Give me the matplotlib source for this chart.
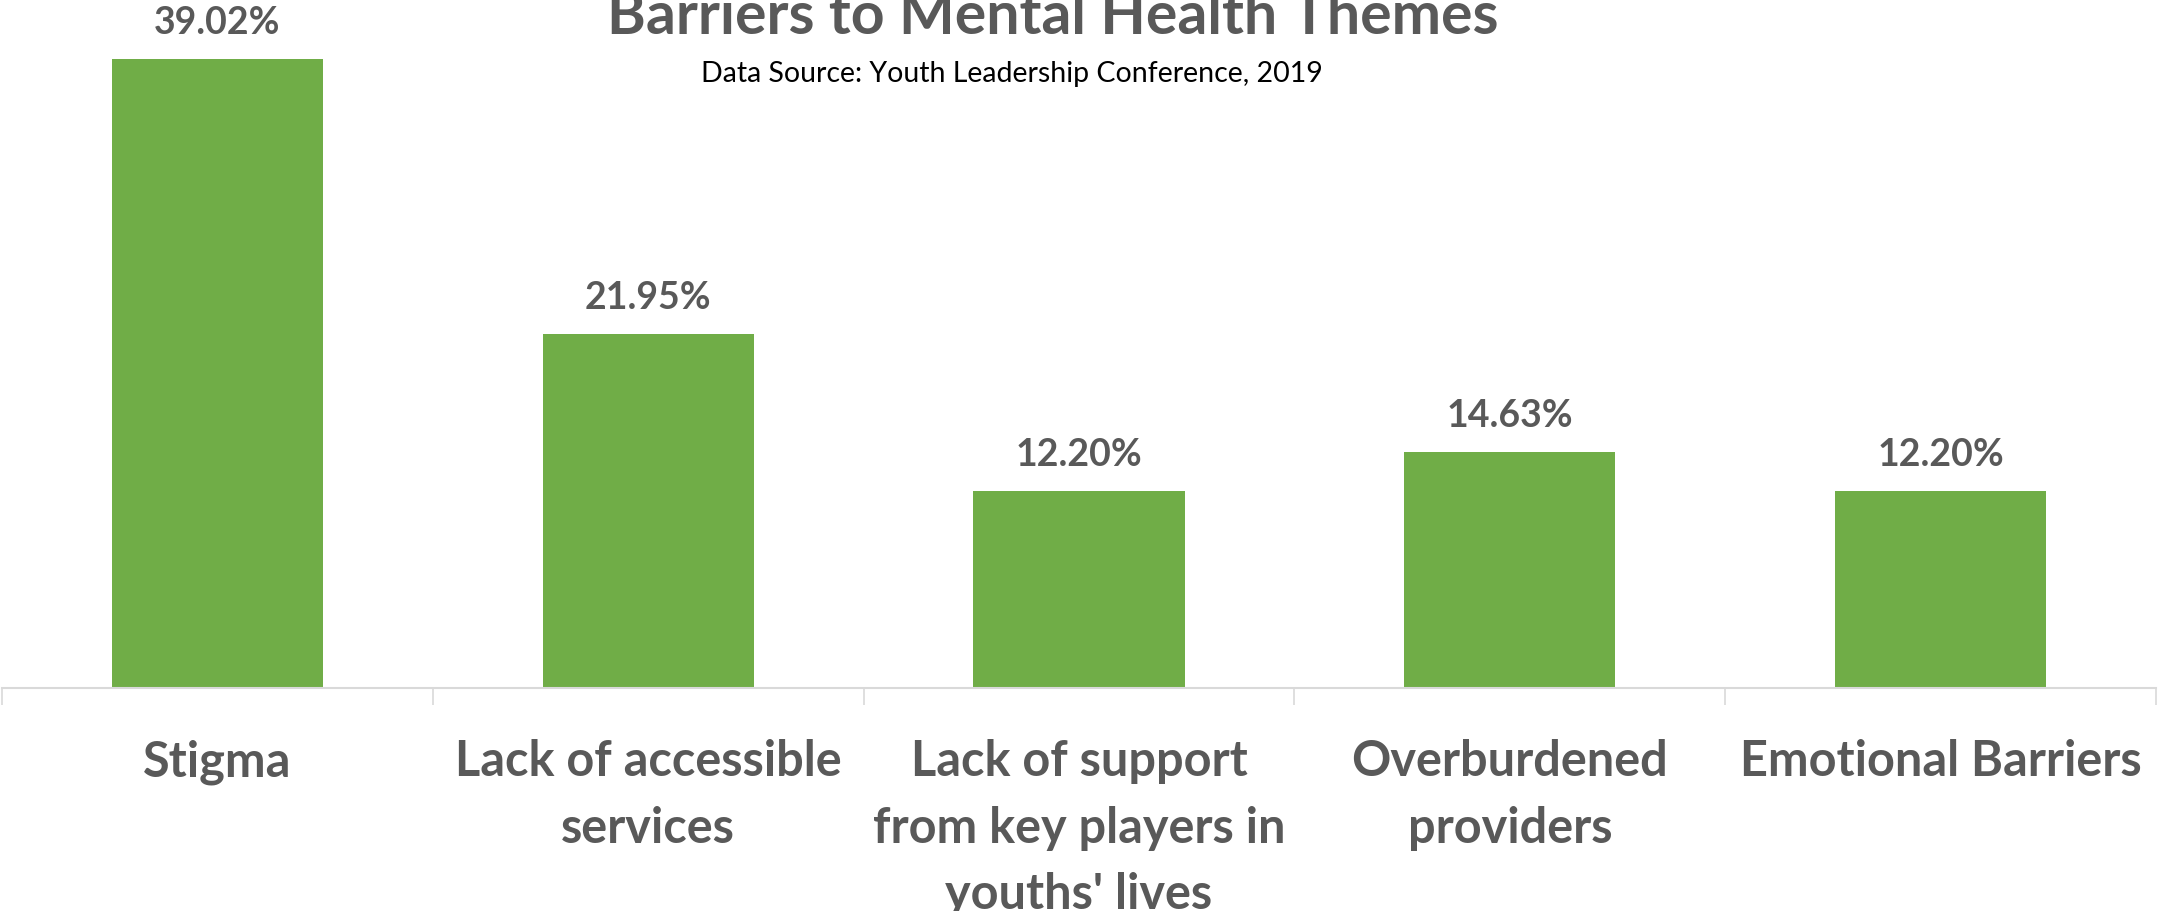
import matplotlib.pyplot as plt
from matplotlib.ticker import FixedLocator

plt.rcParams['font.family'] = ['Lato', 'DejaVu Sans']

categories = ['Stigma', 'Lack of accessible\nservices',
              'Lack of support\nfrom key players in\nyouths\' lives',
              'Overburdened\nproviders', 'Emotional Barriers']
values = [39.02, 21.95, 12.20, 14.63, 12.20]

GREEN = '#70AD47'
GRAY = '#595959'
W, H = 2158, 911

fig = plt.figure(figsize=(W / 100, H / 100), dpi=100)
# axes: x from px 2 to 2156, y=0 at px 688 from top, top at figure edge
ax = fig.add_axes([2 / W, (H - 688) / H, 2154 / W, 688 / H])

x = range(len(values))
bars = ax.bar(x, values, width=0.49, color=GREEN)
ax.set_xlim(-0.5, len(values) - 0.5)
ax.set_ylim(0, 688 / (629 / 39.02))

for b, v in zip(bars, values):
    ax.annotate(f'{v:.2f}%', xy=(b.get_x() + b.get_width() / 2, v),
                xytext=(0, 26), textcoords='offset points',
                ha='center', va='center', fontsize=27, fontweight='bold',
                color=GRAY)

for s in ['top', 'right', 'left']:
    ax.spines[s].set_visible(False)
ax.spines['bottom'].set_color('#D9D9D9')
ax.spines['bottom'].set_linewidth(1.5)
ax.set_yticks([])

ax.set_xticks(list(x))
ax.set_xticklabels(categories, fontsize=35, fontweight='bold', color=GRAY,
                   linespacing=1.58)
ax.tick_params(axis='x', which='major', length=0, pad=37)
ax.xaxis.set_minor_locator(FixedLocator([i - 0.5 for i in range(len(values) + 1)]))
ax.tick_params(axis='x', which='minor', length=12, width=1.2, color='#D9D9D9',
               direction='out')

# title sits partly above the top edge, as in the original
fig.text(1053 / W, 1 - 34 / H, 'Barriers to Mental Health Themes',
         ha='center', va='baseline', fontsize=42.5, fontweight='bold', color=GRAY)
fig.text(1012 / W, 1 - 82 / H, 'Data Source: Youth Leadership Conference, 2019',
         ha='center', va='baseline', fontsize=20.5, color='black')

fig.savefig('out.png', dpi=100)
